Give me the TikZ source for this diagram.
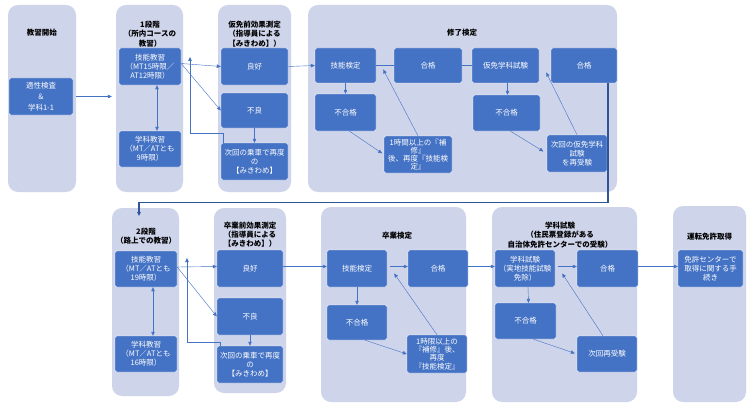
\documentclass[tikz,border=0pt]{standalone}
\usepackage{fontspec}
\newfontfamily\jp{Noto Sans CJK JP}
\usetikzlibrary{arrows.meta}
\definecolor{panelbg}{HTML}{CED4EA}
\definecolor{boxbg}{HTML}{4472C4}
\definecolor{linkc}{HTML}{2F5597}

\begin{document}
\begin{tikzpicture}[x=1pt,y=-1pt,
      every node/.style={font=\jp\fontsize{7.5}{9}\selectfont,align=center,inner sep=1pt},
      panel/.style={fill=panelbg,rounded corners=10pt},
      ttl/.style={font=\jp\bfseries\fontsize{7.5}{9.2}\selectfont},
      box/.style={fill=boxbg,draw=white,thin,rounded corners=2pt,text=white},
      sz/.style 2 args={minimum width=#1pt,minimum height=#2pt},
      arr/.style={draw=boxbg,->},
      link/.style={draw=linkc,line width=1.1pt,->},
      >={Triangle[length=4pt,width=3.5pt]}]
      \useasboundingbox[fill=white](0,0)rectangle(755,412);
      % panels
      \node[panel,sz={68}{187}](p1)at(42,98.5){};
      \node[panel,sz={67}{187}](p2)at(149.5,98.5){};
      \node[panel,sz={73}{187}](p3)at(254.5,98.5){};
      \node[panel,sz={309}{187}](p4)at(462.5,98.5){};
      \node[panel,sz={67}{188}](p5)at(145.5,302){};
      \node[panel,sz={72}{185}](p6)at(250,300.5){};
      \node[panel,sz={145}{195}](p7)at(393.5,304.5){};
      \node[panel,sz={145}{195}](p8)at(564.5,304.5){};
      \node[panel,sz={73}{196}](p9)at(709.5,304){};
      % titles
      \node[ttl](t1)at(42,33){教習開始};
      \node[ttl](t2)at(150,34){1段階\\（所内コースの\\教習）};
      \node[ttl](t3)at(254.5,34){仮免前効果測定\\（指導員による\\【みきわめ】）};
      \node[ttl](t4)at(462,33){修了検定};
      \node[ttl](t5)at(146,236.5){2段階\\（路上での教習）};
      \node[ttl](t6)at(250,234.5){卒業前効果測定\\（指導員による\\【みきわめ】）};
      \node[ttl](t7)at(397,236){卒業検定};
      \node[ttl](t8)at(560,235){学科試験\\（住民票登録がある\\自治体免許センターでの受験）};
      \node[ttl](t9)at(709.5,237){運転免許取得};
      % first row
      \node[box,sz={64}{37}](apt)at(41,96.5){適性検査\\[2pt]\&\\[2pt]学科1-1};
      \node[box,sz={62}{37}](gin1)at(150,66.5){技能教習\\（MT15時限／\\AT12時限）};
      \node[box,sz={62}{36}](gak1)at(150,149){学科教習\\（MT／ATとも\\9時限）};
      \node[box,sz={67}{37}](ok1)at(254.5,66.5){良好};
      \node[box,sz={67}{35}](ng1)at(254.5,110.5){不良};
      \node[box,sz={67}{37}](nx1)at(254.5,161.5){次回の乗車で再度\\の\\【みきわめ】};
      \node[box,sz={61}{35}](kt1)at(345.5,65.5){技能検定};
      \node[box,sz={68}{35}](ps1)at(428,65.5){合格};
      \node[box,sz={67}{35}](kg1)at(505.5,65.5){仮免学科試験};
      \node[box,sz={66}{35}](ps2)at(584,65.5){合格};
      \node[box,sz={61}{37}](fl1)at(345.5,112.5){不合格};
      \node[box,sz={68}{37},font=\jp\fontsize{7.5}{8.2}\selectfont](ho1)at(418,154.5){1時間以上の『補\\修』\\後、再度『技能検\\定』};
      \node[box,sz={67}{36}](fl2)at(506.5,113){不合格};
      \node[box,sz={60}{37}](re1)at(577,153.5){次回の仮免学科\\試験\\を再受験};
      % second row
      \node[box,sz={62}{36}](gin2)at(146,269){技能教習\\（MT／ATとも\\19時限）};
      \node[box,sz={62}{36}](gak2)at(146,354){学科教習\\（MT／ATとも\\16時限）};
      \node[box,sz={66}{37}](ok2)at(250,268.5){良好};
      \node[box,sz={66}{37}](ng2)at(250,316.5){不良};
      \node[box,sz={66}{37}](nx2)at(250,364.5){次回の乗車で再度\\の\\【みきわめ】};
      \node[box,sz={60}{37}](kt2)at(357,268.5){技能検定};
      \node[box,sz={60}{37}](ps3)at(438,268.5){合格};
      \node[box,sz={60}{35}](fl3)at(357,322.5){不合格};
      \node[box,sz={60}{38},font=\jp\fontsize{7.5}{8.2}\selectfont](ho2)at(437,354){1時限以上の\\『補修』後、\\再度\\『技能検定』};
      \node[box,sz={60}{37}](gs)at(525,268.5){学科試験\\（実地技能試験\\免除）};
      \node[box,sz={61}{37}](ps4)at(607.5,268.5){合格};
      \node[box,sz={61}{36}](fl4)at(525.5,321){不合格};
      \node[box,sz={60}{36}](re2)at(607,354){次回再受験};
      \node[box,sz={65}{37}](lic)at(710.5,268.5){免許センターで\\取得に関する手\\続き};
      \coordinate(back1)at(190,57);
      \coordinate(back2)at(187,258);
      \coordinate(dn2)at(139,216);
      % connectors, first row
      \draw[arr,shorten <=3pt,shorten >=4pt](apt.east)--(apt.east-|p2.west);
      \draw[arr,<->]([xshift=7pt]gin1.south)--([xshift=7pt]gak1.north);
      \draw[arr]([yshift=3pt]gin1.east)--(ok1.west);
      \draw[arr]([yshift=3pt]gin1.east)--(ng1.west);
      \draw[arr](ng1.south)--(nx1.north);
      \draw[arr]([xshift=2pt]nx1.north west)--++(0,-10)-|(back1);
      \draw[arr](ok1.east)--(kt1.west);
      \draw[draw=boxbg](kt1.east)--(ps1.west);
      \draw[draw=boxbg](ps1.east)--(kg1.west);
      \draw[arr](kt1.south)--(fl1.north);
      \draw[arr,shorten >=2pt]([xshift=4pt]fl1.south)--(ho1.west);
      \draw[arr](ho1.north)--([shift={(7pt,-4pt)}]kt1.east);
      \draw[arr]([xshift=2pt]kg1.south)--([xshift=1pt]fl2.north);
      \draw[arr,shorten >=4pt]([xshift=4pt]fl2.south)--(re1.west);
      \draw[arr](re1.north)--([shift={(7pt,-7pt)}]kg1.east);
      \draw[link]([xshift=24pt]ps2.south)--++(0,119)-|(dn2);
      % connectors, second row
      \draw[arr,<->]([xshift=7pt]gin2.south)--([xshift=7pt]gak2.north);
      \draw[arr]([yshift=2pt]gin2.east)--([yshift=2pt]ok2.west);
      \draw[arr]([yshift=2pt]gin2.east)--(ng2.west);
      \draw[arr](ng2.south)--(nx2.north);
      \draw[arr]([xshift=3pt]nx2.north west)--++(0,-4)-|(back2);
      \draw[arr]([yshift=2pt]ok2.east)--([yshift=2pt]kt2.west);
      \draw[arr,shorten <=3pt]([yshift=2pt]kt2.east)--([yshift=2pt]ps3.west);
      \draw[arr](kt2.south)--(fl3.north);
      \draw[arr]([xshift=8pt]fl3.south)--(ho2.west);
      \draw[arr](ho2.north)--([shift={(7pt,-5pt)}]kt2.east);
      \draw[arr]([yshift=2pt]ps3.east)--([yshift=2pt]gs.west);
      \draw[arr,shorten <=3pt]([yshift=2pt]gs.east)--([yshift=2pt]ps4.west);
      \draw[arr]([xshift=3pt]gs.south)--([xshift=3pt]fl4.north);
      \draw[arr,shorten >=2pt]([xshift=8pt]fl4.south)--(re2.west);
      \draw[arr]([xshift=-4pt]re2.north)--([shift={(7pt,-5pt)}]gs.east);
      \draw[arr]([yshift=2pt]ps4.east)--([yshift=2pt]lic.west);
\end{tikzpicture}
\end{document}
